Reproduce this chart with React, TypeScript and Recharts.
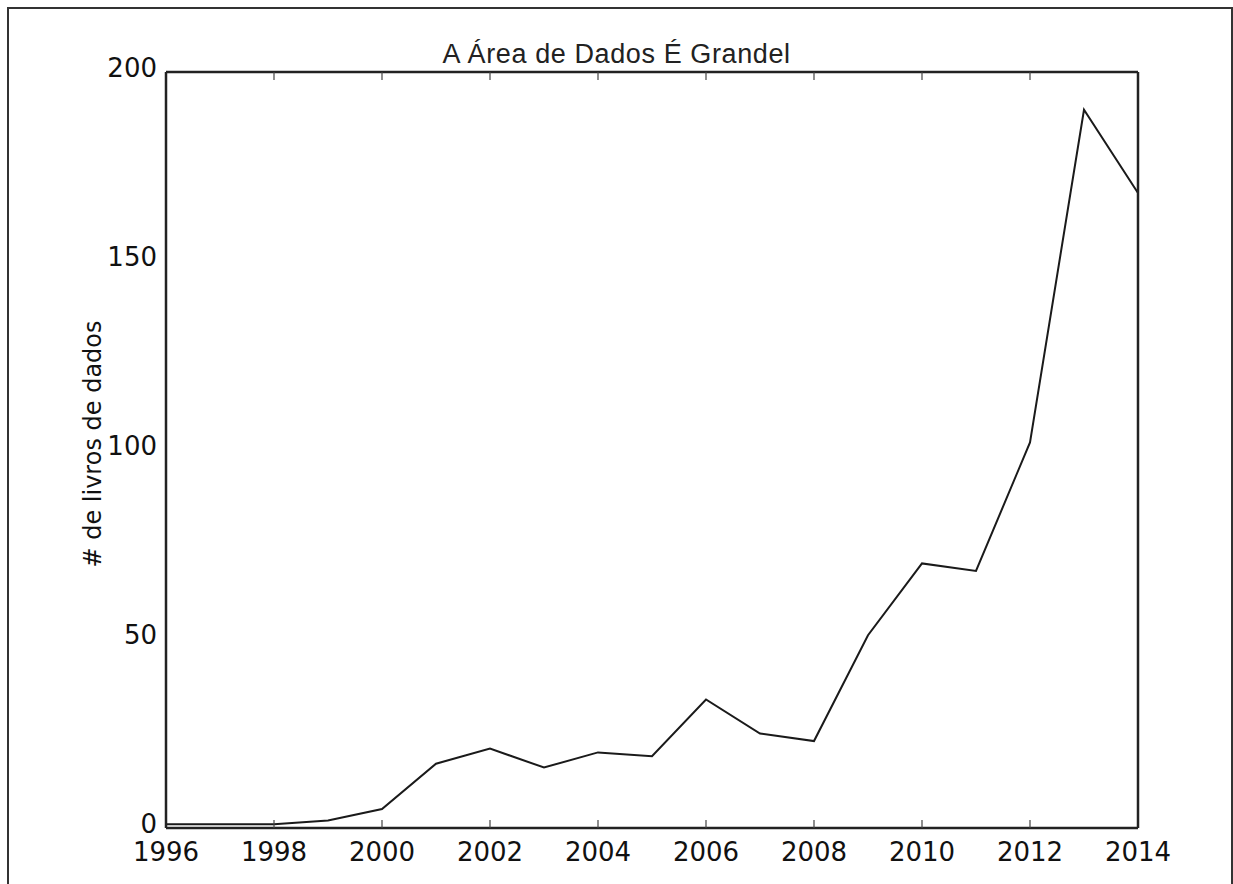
import React from 'react';
import { LineChart, Line, XAxis, YAxis } from 'recharts';

const years = [1996, 1997, 1998, 1999, 2000, 2001, 2002, 2003, 2004, 2005, 2006, 2007, 2008, 2009, 2010, 2011, 2012, 2013, 2014];
const bookCounts = [1, 1, 1, 2, 5, 17, 21, 16, 20, 19, 34, 25, 23, 51, 70, 68, 102, 190, 168];
const xTicks = [1996, 1998, 2000, 2002, 2004, 2006, 2008, 2010, 2012, 2014];
const yTicks = [0, 50, 100, 150, 200];

const title = 'A Área de Dados É Grandel';
const yLabel = '# de livros de dados';

const data = years.map((year, i) => ({ year, books: bookCounts[i] }));

const tickFont = { fontFamily: 'DejaVu Sans', fontSize: 26, fill: '#111' };
const frameLine = { stroke: '#222', strokeWidth: 2.5 };
const innerTick = { stroke: '#444', strokeWidth: 1.2 };
const blank = () => '';

const App = () => {
  return (
    <div style={{ position: 'absolute', left: 0, top: 0, width: 1233, height: 884, background: '#fff', overflow: 'hidden' }}>
      {/* outer image frame */}
      <div
        style={{
          position: 'absolute',
          left: 7,
          top: 7,
          width: 1226,
          height: 900,
          borderTop: '2px solid #333',
          borderLeft: '2px solid #333',
          borderRight: '2px solid #333',
          boxSizing: 'border-box',
        }}
      />
      <div
        style={{
          position: 'absolute',
          left: 0,
          width: 1233,
          top: 38,
          textAlign: 'center',
          fontFamily: 'Liberation Sans',
          fontSize: 27,
          letterSpacing: 0.6,
          color: '#222',
          lineHeight: '32px',
        }}
      >
        {title}
      </div>
      <LineChart
        width={1233}
        height={884}
        data={data}
        margin={{ top: 72, right: 95, bottom: 16, left: 86 }}
        style={{ position: 'absolute', left: 0, top: 0 }}
      >
        {/* bottom axis: line + labels */}
        <XAxis
          xAxisId="b"
          dataKey="year"
          type="number"
          domain={[1996, 2014]}
          ticks={xTicks}
          height={40}
          tickLine={false}
          tickMargin={9}
          tick={tickFont}
          axisLine={frameLine}
          interval={0}
        />
        {/* bottom inward ticks */}
        <XAxis
          xAxisId="bm"
          dataKey="year"
          type="number"
          domain={[1996, 2014]}
          ticks={xTicks}
          height={10}
          mirror
          tickSize={8}
          tickFormatter={blank}
          axisLine={false}
          tickLine={innerTick}
          interval={0}
        />
        {/* top frame + inward ticks */}
        <XAxis
          xAxisId="t"
          orientation="top"
          dataKey="year"
          type="number"
          domain={[1996, 2014]}
          ticks={xTicks}
          height={10}
          mirror
          tickSize={8}
          tickFormatter={blank}
          axisLine={frameLine}
          tickLine={innerTick}
          interval={0}
        />
        {/* left axis: line + labels */}
        <YAxis
          yAxisId="l"
          type="number"
          domain={[0, 200]}
          ticks={yTicks}
          width={80}
          tickLine={false}
          tickMargin={3}
          tick={{ ...tickFont, dy: -4 }}
          axisLine={frameLine}
          interval={0}
          label={({ viewBox }: any) => {
            const cx = viewBox.x + 7;
            const cy = viewBox.y + viewBox.height / 2 - 6;
            return (
              <text
                x={cx}
                y={cy}
                transform={`rotate(-90, ${cx}, ${cy})`}
                textAnchor="middle"
                dominantBaseline="central"
                fontFamily="DejaVu Sans"
                fontSize={24}
                fill="#111"
              >
                {yLabel}
              </text>
            );
          }}
        />
        {/* left inward ticks */}
        <YAxis
          yAxisId="lm"
          type="number"
          domain={[0, 200]}
          ticks={yTicks}
          width={10}
          mirror
          tickSize={8}
          tickFormatter={blank}
          axisLine={false}
          tickLine={innerTick}
          interval={0}
        />
        {/* right frame + inward ticks */}
        <YAxis
          yAxisId="r"
          orientation="right"
          type="number"
          domain={[0, 200]}
          ticks={yTicks}
          width={10}
          mirror
          tickSize={8}
          tickFormatter={blank}
          axisLine={frameLine}
          tickLine={innerTick}
          interval={0}
        />
        <Line
          xAxisId="b"
          yAxisId="l"
          type="linear"
          dataKey="books"
          stroke="#1a1a1a"
          strokeWidth={2}
          dot={false}
          isAnimationActive={false}
        />
      </LineChart>
    </div>
  );
};

export default App;
